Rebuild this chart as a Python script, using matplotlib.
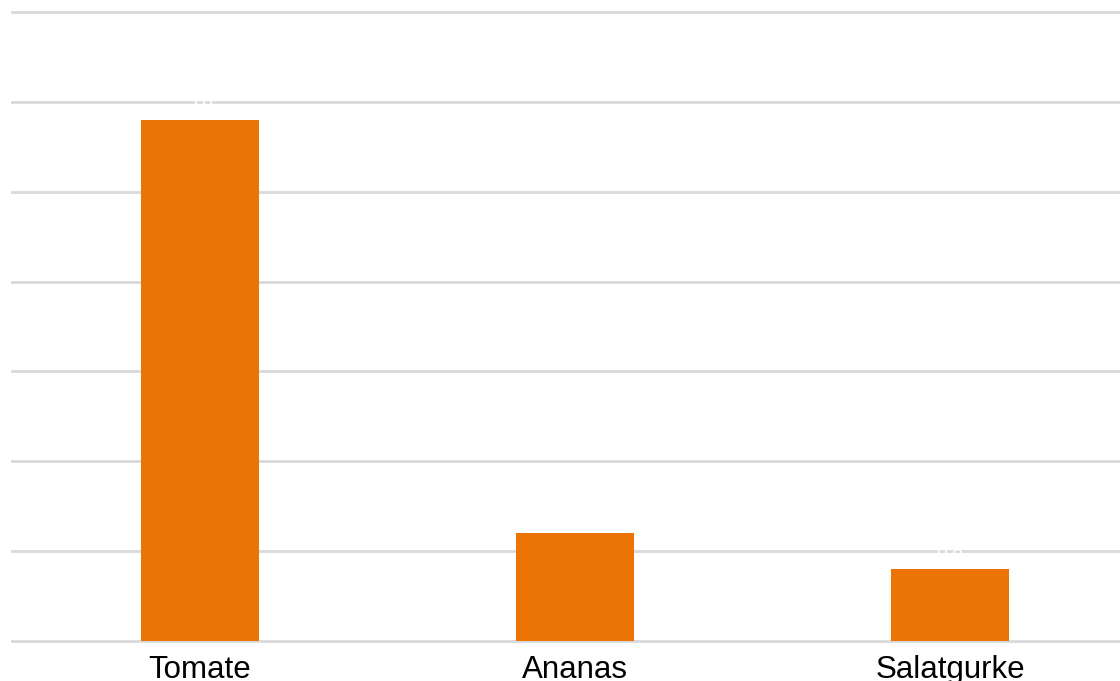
import matplotlib.pyplot as plt

categories = ['Tomate', 'Ananas', 'Salatgurke']
values = [5.8, 1.2, 0.8]
value_labels = ['5,8', '1,2', '0,8']

plt.rcParams['font.family'] = ['Liberation Sans', 'DejaVu Sans']

fig = plt.figure(figsize=(11.2, 6.81), dpi=100)
ax = fig.add_axes([12 / 1120, 1 - 641 / 681, (1120 - 12) / 1120, (641 - 12) / 681])

x = range(len(categories))
ax.bar(x, values, width=0.315, color='#ec7405', zorder=3)

# labels are white in the original, so they only show where they cross a gridline
for xi, v, lab in zip(x, values, value_labels):
    ax.text(xi, v + 0.1, lab, color='white', ha='center', va='bottom', fontsize=14, zorder=4)

ax.set_xlim(-0.5, 2.453)
ax.set_ylim(0, 7)
ax.set_yticks(range(0, 8))
ax.set_yticklabels([])
ax.set_xticks(list(x))
ax.set_xticklabels(categories, fontsize=22.5)
ax.tick_params(axis='both', length=0)
ax.tick_params(axis='x', pad=10)
ax.grid(axis='y', color='#d9d9d9', linewidth=2, zorder=0)
for gl in ax.get_ygridlines():
    gl.set_clip_on(False)
for s in ax.spines.values():
    s.set_visible(False)

fig.savefig('out.png', dpi=100)
